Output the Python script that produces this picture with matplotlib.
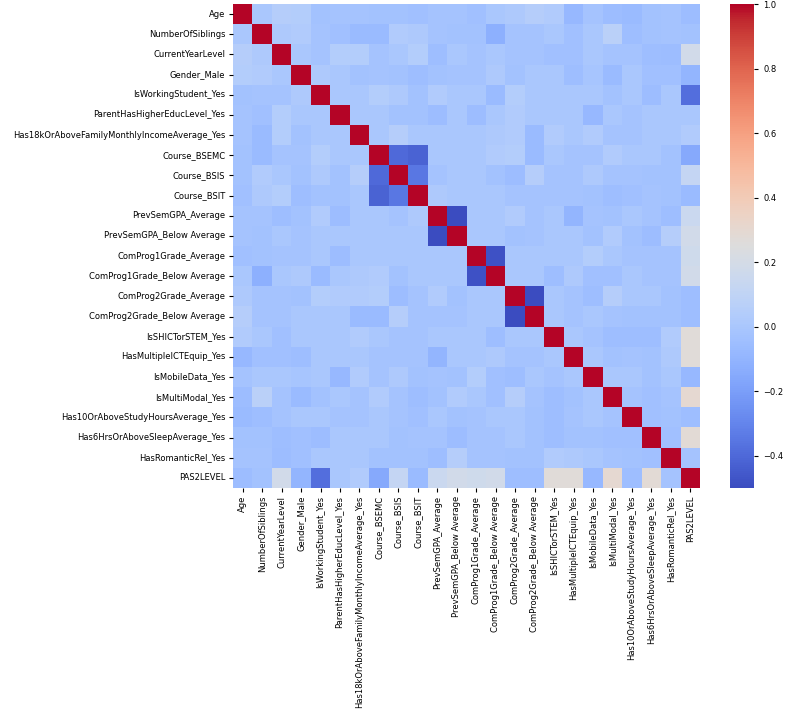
import numpy as np
import pandas as pd
import matplotlib
matplotlib.use("Agg")
import matplotlib.pyplot as plt
import seaborn as sns

labels = [
    "Age", "NumberOfSiblings", "CurrentYearLevel", "Gender_Male",
    "IsWorkingStudent_Yes", "ParentHasHigherEducLevel_Yes",
    "Has18kOrAboveFamilyMonthlyIncomeAverage_Yes", "Course_BSEMC",
    "Course_BSIS", "Course_BSIT", "PrevSemGPA_Average",
    "PrevSemGPA_Below Average", "ComProg1Grade_Average",
    "ComProg1Grade_Below Average", "ComProg2Grade_Average",
    "ComProg2Grade_Below Average", "IsSHICTorSTEM_Yes",
    "HasMultipleICTEquip_Yes", "IsMobileData_Yes", "IsMultiModal_Yes",
    "Has10OrAboveStudyHoursAverage_Yes", "Has6HrsOrAboveSleepAverage_Yes",
    "HasRomanticRel_Yes", "PAS2LEVEL",
]

# upper-triangle correlations, row i gives values for columns i+1..23
upper_rows = [
    [0.00, 0.05, 0.04, -0.03, -0.02, -0.02, -0.03, -0.03, -0.04, -0.02, -0.02, -0.04, 0.00, 0.02, 0.05, 0.03, -0.08, -0.02, -0.06, -0.07, -0.03, -0.02, -0.06],
    [0.02, 0.03, -0.02, -0.04, -0.07, -0.07, 0.03, 0.02, -0.02, -0.03, -0.03, -0.12, -0.02, -0.02, 0.00, -0.04, 0.00, 0.07, -0.05, -0.03, -0.02, -0.03],
    [0.00, -0.02, 0.04, 0.04, -0.02, 0.00, 0.04, -0.05, 0.00, -0.02, 0.00, -0.02, -0.02, -0.04, -0.04, 0.00, -0.02, -0.02, -0.05, -0.06, 0.18],
    [0.02, 0.00, -0.03, -0.02, -0.03, -0.05, -0.03, -0.02, -0.02, 0.02, -0.03, 0.00, 0.00, -0.05, -0.01, -0.07, 0.00, -0.04, -0.04, -0.10],
    [0.00, 0.00, 0.04, 0.02, -0.03, 0.03, 0.00, 0.00, -0.07, 0.04, 0.00, 0.00, 0.00, 0.00, -0.03, 0.00, -0.06, 0.00, -0.38],
    [0.00, 0.00, -0.03, -0.03, -0.06, 0.00, -0.06, 0.00, 0.03, 0.00, 0.00, 0.00, -0.08, 0.00, -0.02, 0.00, 0.00, 0.00],
    [0.00, 0.05, 0.00, 0.00, 0.00, 0.00, 0.02, 0.03, -0.07, 0.03, 0.00, 0.03, -0.02, -0.02, 0.00, 0.00, 0.03],
    [-0.40, -0.42, 0.00, 0.00, 0.00, 0.03, 0.04, -0.07, 0.00, -0.02, -0.02, 0.03, 0.00, 0.00, -0.03, -0.15],
    [-0.35, -0.02, 0.00, 0.00, -0.03, -0.06, 0.05, -0.02, -0.02, 0.02, -0.02, -0.02, -0.03, -0.03, 0.12],
    [0.02, 0.00, 0.00, 0.00, -0.02, -0.02, -0.02, -0.02, -0.03, -0.05, -0.04, -0.02, -0.03, -0.07],
    [-0.50, 0.00, 0.00, 0.03, -0.02, 0.00, -0.10, -0.02, -0.03, 0.00, -0.02, -0.05, 0.15],
    [0.00, 0.00, -0.03, -0.02, 0.00, 0.00, -0.03, 0.03, -0.03, -0.06, 0.05, 0.18],
    [-0.48, 0.00, 0.00, 0.00, 0.00, 0.04, 0.00, -0.02, -0.02, -0.02, 0.17],
    [0.00, 0.00, -0.05, 0.02, -0.04, -0.04, 0.00, -0.02, -0.02, 0.18],
    [-0.50, 0.00, -0.02, -0.05, 0.05, 0.00, 0.00, -0.03, -0.05],
    [0.00, -0.02, 0.00, -0.02, -0.03, -0.03, -0.03, -0.05],
    [0.00, -0.02, -0.05, -0.05, -0.05, 0.03, 0.27],
    [0.00, -0.03, -0.02, -0.03, 0.02, 0.27],
    [0.00, 0.00, -0.03, 0.00, -0.08],
    [-0.02, -0.04, -0.02, 0.30],
    [-0.04, -0.03, -0.05],
    [-0.04, 0.28],
    [-0.02],
]

n = len(labels)
corr = np.eye(n)
for i, row in enumerate(upper_rows):
    for k, v in enumerate(row):
        j = i + 1 + k
        corr[i, j] = v
        corr[j, i] = v

df = pd.DataFrame(corr, index=labels, columns=labels)

W, H = 787, 722
fig = plt.figure(figsize=(W / 100, H / 100), dpi=100)
ax = fig.add_axes([233 / W, (H - 488) / H, 467 / W, 484 / H])
cax = fig.add_axes([730 / W, (H - 488) / H, 24 / W, 484 / H])

sns.heatmap(df, cmap="coolwarm", ax=ax, cbar_ax=cax,
            xticklabels=True, yticklabels=True)
ax.tick_params(axis="both", labelsize=6.0, length=3, pad=2.5)
cax.tick_params(labelsize=6.0, length=3)
plt.setp(ax.get_xticklabels(), rotation=90)
plt.setp(ax.get_yticklabels(), rotation=0)

fig.savefig("out.png", dpi=100)
